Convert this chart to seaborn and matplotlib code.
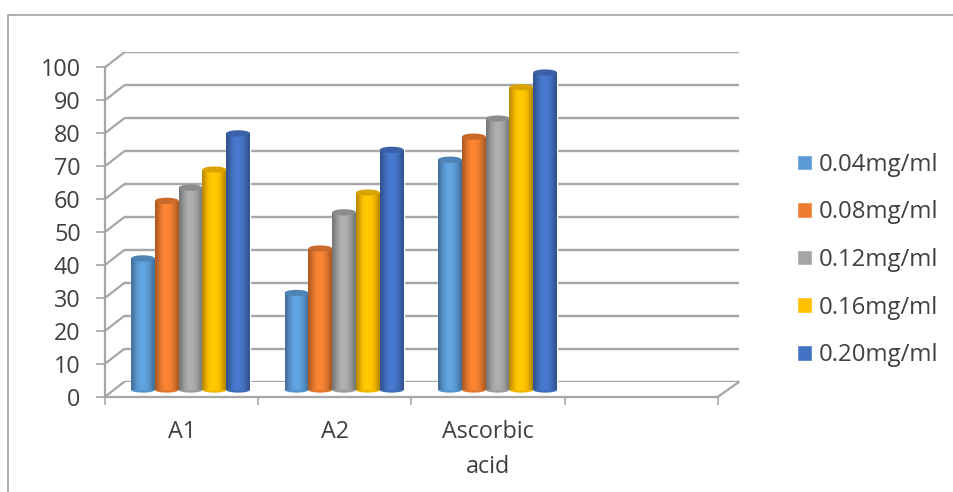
import numpy as np
import pandas as pd
import seaborn as sns
import matplotlib.pyplot as plt
from matplotlib.colors import to_rgb
from matplotlib.lines import Line2D
from matplotlib.patches import Ellipse

# data
categories = ["A1", "A2", "Ascorbic\nacid"]
doses = ["0.04mg/ml", "0.08mg/ml", "0.12mg/ml", "0.16mg/ml", "0.20mg/ml"]
dose_004 = [40, 29.5, 70]
dose_008 = [57.5, 43, 77]
dose_012 = [61.5, 54, 82.5]
dose_016 = [67, 60, 92]
dose_020 = [78, 73, 96.5]
colors = ["#5B9BD5", "#ED7D31", "#A5A5A5", "#FFC000", "#4472C4"]
y_ticks = list(range(0, 101, 10))

W, H = 954, 492
GRID = "#a6a6a6"
TEXT = "#404040"
FONT = 16.8

sns.set_theme(style="white")
plt.rcParams["font.family"] = ["Open Sans", "DejaVu Sans"]

df = pd.DataFrame({
    "category": categories * 5,
    "dose": np.repeat(doses, 3),
    "value": dose_004 + dose_008 + dose_012 + dose_016 + dose_020,
})

fig = plt.figure(figsize=(W / 100, H / 100), dpi=100)


def px_axes(x0, x1, top, bottom):
    ax = fig.add_axes([x0 / W, 1 - bottom / H, (x1 - x0) / W, (bottom - top) / H])
    ax.patch.set_alpha(0)
    ax.set_xlim(-0.5, 3.5)
    ax.set_ylim(0, 100)
    return ax


# picture border
fig.add_artist(Line2D([8.5 / W, 8.5 / W, 1], [0, 1 - 14.5 / H, 1 - 14.5 / H],
                      color="#9a9a9a", lw=1.1))

# back wall
back = px_axes(124, 739.5, 52, 382)
back.set_yticks(y_ticks)
back.set_xticks([])
back.yaxis.grid(True, color=GRID, lw=1.7)
back.tick_params(left=False, labelleft=False)
sns.despine(ax=back, left=True, bottom=True)

# front plane: real axis, ticks and labels
front = px_axes(105, 718, 67.3, 396.7)
front.set_yticks(y_ticks)
front.set_xticks(np.arange(-0.5, 4))
front.set_xticklabels([])
front.set_xticks(range(4), minor=True)
front.set_xticklabels(categories + [""], minor=True, fontsize=FONT, color=TEXT,
                      linespacing=1.6)
front.tick_params(axis="x", which="major", bottom=True, length=6, width=1.2, color=GRID)
front.tick_params(axis="x", which="minor", bottom=False, length=0, pad=17)
front.tick_params(axis="y", left=True, length=6.5, width=1.2, color=GRID, pad=11,
                  labelsize=FONT, labelcolor=TEXT)
sns.despine(ax=front)
for side in ["left", "bottom"]:
    front.spines[side].set_color(GRID)
    front.spines[side].set_linewidth(1.6)

# depth lines from the front plane to the wall
depth_x = 19 / 153.25
depth_y = 14.7 / 3.294
for t in y_ticks:
    front.plot([-0.5, -0.5 + depth_x], [t, t + depth_y], color=GRID, lw=1.6, clip_on=False)
front.plot([3.5, 3.5 + depth_x * 1.1], [0, depth_y], color=GRID, lw=1.6, clip_on=False)

# bars sit between the front plane and the wall
ax = px_axes(113.8, 727.8, 61, 390)
sns.barplot(data=df, x="category", y="value", hue="dose", order=categories + [""],
            hue_order=doses, palette=colors, width=0.775, gap=0, saturation=1,
            errorbar=None, ax=ax)

# cylinder shading from each bar's own rectangle
shade = np.array([0.72, 0.86, 0.97, 1.04, 1.07, 1.06, 1.02, 0.96, 0.86, 0.72])
for container, color in zip(ax.containers, colors):
    base = np.array(to_rgb(color))
    strip = np.clip(base[None, :] * shade[:, None], 0, 1)[None, :, :]
    for bar in container:
        x0, w, h = bar.get_x(), bar.get_width(), bar.get_height()
        if not np.isfinite(h):
            continue
        cx = x0 + w / 2
        ax.add_patch(Ellipse((cx, 0), w, 1.6, fc=base * 0.95, ec="none", zorder=3, clip_on=False))
        im = ax.imshow(strip, extent=(x0, x0 + w, 0, h), aspect="auto",
                       interpolation="bicubic", zorder=3.2)
        im.set_clip_path(bar)
        ax.add_patch(Ellipse((cx, h), w, 1.9, fc=base * 0.85, ec="none", zorder=3.4, clip_on=False))

ax.set_xlim(-0.5, 3.5)
ax.set_ylim(0, 100)
ax.set_axis_off()

sns.move_legend(ax, "center left", bbox_to_anchor=(775 / W, 1 - 260 / H),
                bbox_transform=fig.transFigure, frameon=False, title=None,
                fontsize=17.3, labelcolor=TEXT, handlelength=0.64, handleheight=0.64,
                handletextpad=0.3, labelspacing=0.98)

plt.savefig("out.png", dpi=100)
